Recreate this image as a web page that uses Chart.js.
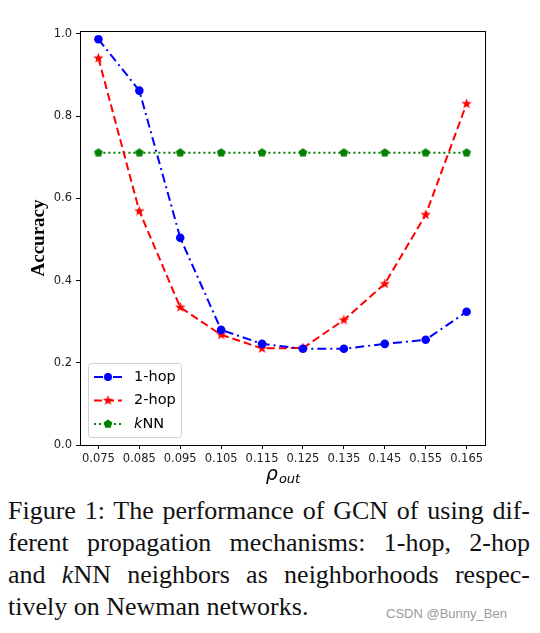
<!DOCTYPE html>
<html>
<head>
<meta charset="utf-8">
<script src="https://cdn.jsdelivr.net/npm/chart.js@4/dist/chart.umd.min.js"></script>
<style>
  body { margin: 0; background: #fff; width: 540px; height: 633px; overflow: hidden; position: relative; }
  #wrap { position: absolute; left: 0; top: 0; width: 540px; height: 490px; }
  #caption { position: absolute; left: 8px; top: 495px; width: 522px;
    font-family: "Liberation Serif", "Times New Roman", serif; font-size: 26px; line-height: 32px; color: #111; }
  #caption div { white-space: nowrap; }
  #caption .j { text-align: justify; text-align-last: justify; }
  #mark { position: absolute; left: 386px; top: 606px; font-family: "Liberation Sans", Arial, sans-serif;
    font-size: 13px; color: #9a9a9a; }
</style>
</head>
<body>
<div id="wrap"><canvas id="chart" width="540" height="490"></canvas></div>
<div id="caption">
  <div class="j">Figure 1: The performance of GCN of using dif-</div>
  <div class="j">ferent propagation mechanisms: 1-hop, 2-hop</div>
  <div class="j">and <i>k</i>NN neighbors as neighborhoods respec-</div>
  <div>tively on Newman networks.</div>
</div>
<div id="mark">CSDN @Bunny_Ben</div>
<script>
const rhoOut = [0.075, 0.085, 0.095, 0.105, 0.115, 0.125, 0.135, 0.145, 0.155, 0.165];
const oneHop = [0.987, 0.862, 0.504, 0.280, 0.246, 0.234, 0.234, 0.246, 0.256, 0.324];
const twoHop = [0.941, 0.569, 0.335, 0.268, 0.235, 0.236, 0.304, 0.392, 0.560, 0.830];
const knn    = [0.711, 0.711, 0.711, 0.711, 0.711, 0.711, 0.711, 0.711, 0.711, 0.711];
const yTicks = [0.0, 0.2, 0.4, 0.6, 0.8, 1.0];

// marker images (star, pentagon) since chart.js has no filled ones
function polyMarker(color, n, outer, inner) {
  const c = document.createElement("canvas");
  const s = Math.ceil(outer * 2 + 2);
  c.width = s; c.height = s;
  const g = c.getContext("2d");
  g.fillStyle = color;
  g.beginPath();
  const steps = inner ? n * 2 : n;
  for (let i = 0; i < steps; i++) {
    const r = inner && i % 2 ? inner : outer;
    const a = -Math.PI / 2 + i * Math.PI * 2 / steps;
    const x = s / 2 + r * Math.cos(a), y = s / 2 + r * Math.sin(a);
    i ? g.lineTo(x, y) : g.moveTo(x, y);
  }
  g.closePath();
  g.fill();
  return c;
}
const starImg = polyMarker("#ff0000", 5, 5.5, 2.3);
const pentImg = polyMarker("#008000", 5, 4.6, 0);

const dash1 = [9, 4, 2, 4], dash2 = [8, 4], dash3 = [2, 3];

function pts(ys) { return rhoOut.map((x, i) => ({ x: x, y: ys[i] })); }

const boxPlugin = {
  id: "box",
  afterDraw(chart) {
    const a = chart.chartArea, ctx = chart.ctx;
    ctx.save();
    ctx.strokeStyle = "#000";
    ctx.lineWidth = 1;
    ctx.strokeRect(a.left + 0.5, a.top + 0.5, a.right - a.left, a.bottom - a.top);
    // x title with subscript
    ctx.fillStyle = "#000";
    ctx.textBaseline = "alphabetic";
    ctx.font = "italic 19px 'DejaVu Sans'";
    const cx = (a.left + a.right) / 2;
    const w1 = ctx.measureText("\u03c1").width;
    ctx.font = "italic 13px 'DejaVu Sans'";
    const w2 = ctx.measureText("out").width;
    const x0 = cx - (w1 + w2) / 2;
    ctx.font = "italic 19px 'DejaVu Sans'";
    ctx.fillText("\u03c1", x0, 480);
    ctx.font = "italic 13px 'DejaVu Sans'";
    ctx.fillText("out", x0 + w1 + 1, 483);
    // y title
    ctx.translate(44, (a.top + a.bottom) / 2);
    ctx.rotate(-Math.PI / 2);
    ctx.font = "bold 19px 'Liberation Serif'";
    ctx.textAlign = "center";
    ctx.fillText("Accuracy", 0, 0);
    ctx.restore();

    // legend
    const series = [
      { label: ["", "1-hop"], color: "#0000ff", dash: dash1, marker: "circle" },
      { label: ["", "2-hop"], color: "#ff0000", dash: dash2, marker: starImg },
      { label: ["k", "NN"], color: "#008000", dash: dash3, marker: pentImg }
    ];
    ctx.save();
    const lx = 88, ly = 363, lw = 93, lh = 74;
    ctx.fillStyle = "rgba(255,255,255,0.85)";
    ctx.strokeStyle = "#d0d0d0";
    ctx.lineWidth = 1;
    ctx.beginPath();
    ctx.roundRect(lx + 0.5, ly + 0.5, lw, lh, 3);
    ctx.fill();
    ctx.stroke();
    series.forEach((s, i) => {
      const y = ly + 14 + i * 23.5;
      ctx.strokeStyle = s.color;
      ctx.lineWidth = 2;
      ctx.setLineDash(s.dash);
      ctx.beginPath();
      ctx.moveTo(94, y);
      ctx.lineTo(122, y);
      ctx.stroke();
      ctx.setLineDash([]);
      if (s.marker === "circle") {
        ctx.fillStyle = s.color;
        ctx.beginPath();
        ctx.arc(108, y, 4, 0, Math.PI * 2);
        ctx.fill();
      } else {
        ctx.drawImage(s.marker, 108 - s.marker.width / 2, y - s.marker.height / 2);
      }
      ctx.fillStyle = "#000";
      ctx.textBaseline = "middle";
      let tx = 134;
      if (s.label[0]) {
        ctx.font = "italic 14.5px 'DejaVu Sans'";
        ctx.fillText(s.label[0], tx, y);
        tx += ctx.measureText(s.label[0]).width;
      }
      ctx.font = "14.5px 'DejaVu Sans'";
      ctx.fillText(s.label[1], tx, y);
    });
    ctx.restore();
  }
};

new Chart(document.getElementById("chart"), {
  type: "line",
  data: {
    datasets: [
      { label: "1-hop", data: pts(oneHop), borderColor: "#0000ff", backgroundColor: "#0000ff",
        borderWidth: 2, borderDash: dash1, pointStyle: "circle", pointRadius: 4.3, pointBorderWidth: 0 },
      { label: "2-hop", data: pts(twoHop), borderColor: "#ff0000", backgroundColor: "#ff0000",
        borderWidth: 2, borderDash: dash2, pointStyle: starImg },
      { label: "kNN", data: pts(knn), borderColor: "#008000", backgroundColor: "#008000",
        borderWidth: 2, borderDash: dash3, pointStyle: pentImg }
    ]
  },
  options: {
    responsive: false,
    animation: false,
    layout: { padding: { left: 0, right: 55, top: 31, bottom: 0 } },
    plugins: { legend: { display: false }, tooltip: { enabled: false } },
    scales: {
      x: {
        type: "linear", min: 0.0705, max: 0.1695,
        afterBuildTicks: (s) => { s.ticks = rhoOut.map(v => ({ value: v })); },
        afterFit: (s) => { s.height = 45; },
        grid: { display: true, drawOnChartArea: false, drawTicks: true, tickLength: 4, color: "#000" },
        border: { display: false },
        ticks: { color: "#222", font: { family: "DejaVu Sans", size: 11.5 }, padding: 3,
          maxRotation: 0, autoSkip: false, callback: (v) => v.toFixed(3) }
      },
      y: {
        min: 0, max: 1.007,
        afterBuildTicks: (s) => { s.ticks = yTicks.map(v => ({ value: v })); },
        afterFit: (s) => { s.width = 80; },
        grid: { display: true, drawOnChartArea: false, drawTicks: true, tickLength: 4, color: "#000" },
        border: { display: false },
        ticks: { color: "#222", font: { family: "DejaVu Sans", size: 11.5 }, padding: 4,
          callback: (v) => v.toFixed(1) }
      }
    }
  },
  plugins: [boxPlugin]
});
</script>
</body>
</html>
